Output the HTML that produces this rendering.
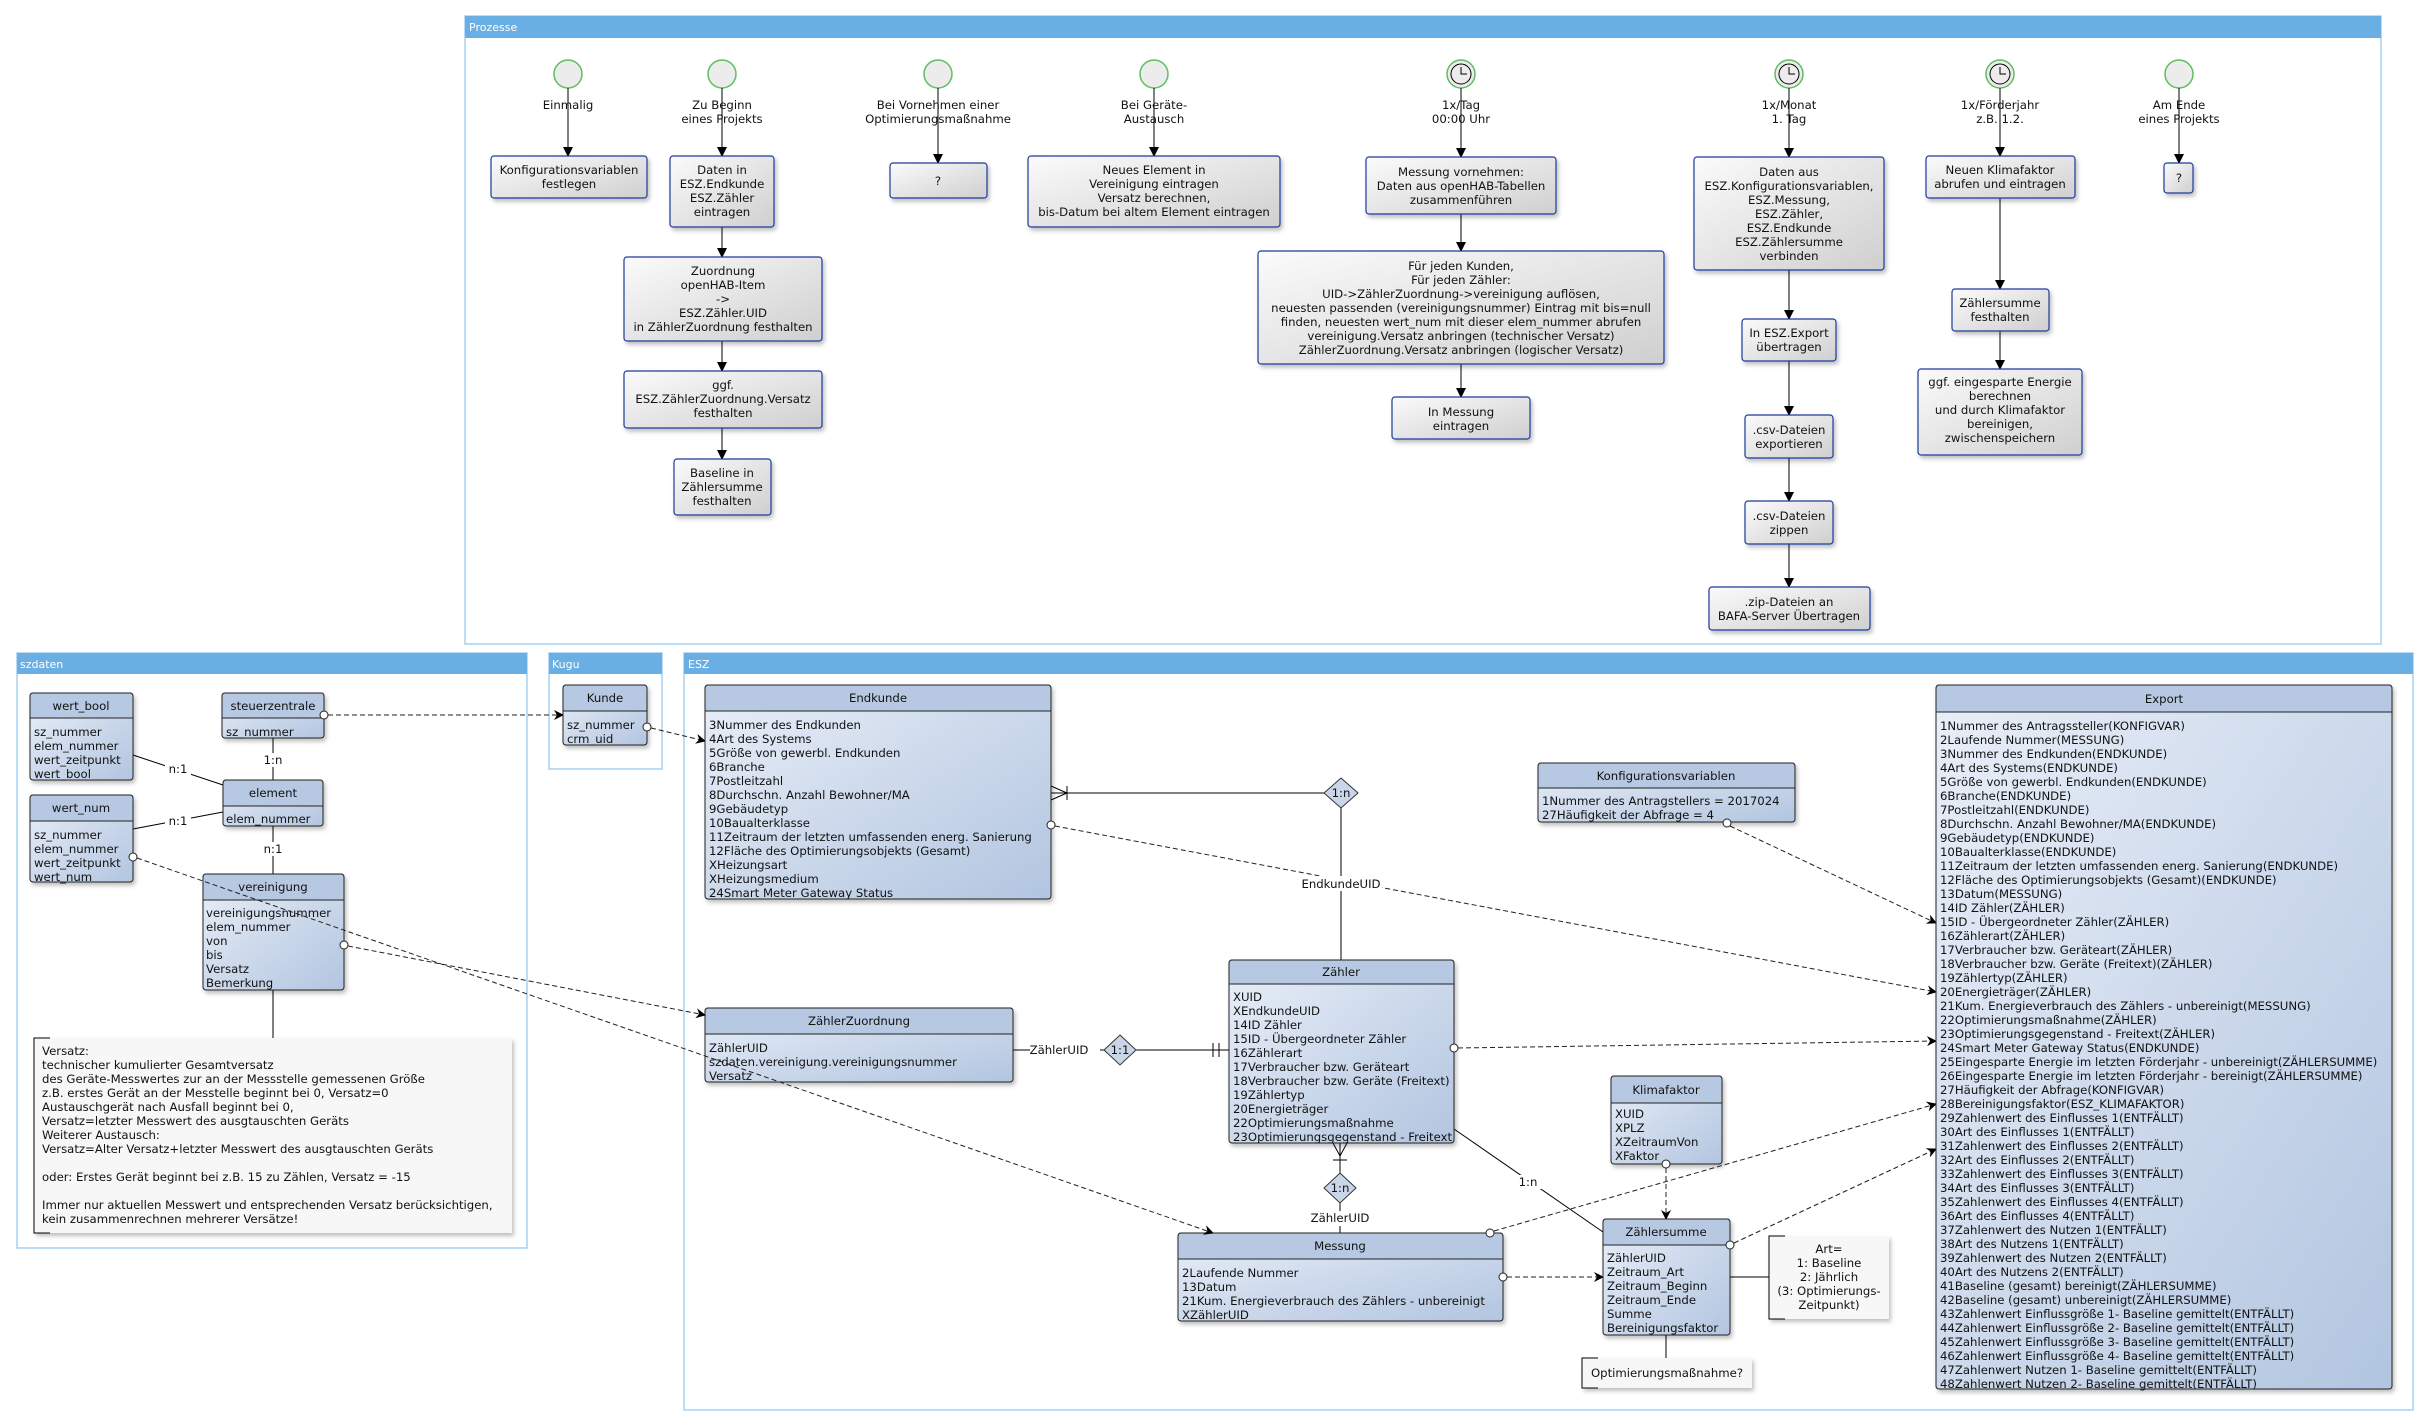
<!DOCTYPE html>
<html><head><meta charset="utf-8"><style>
html,body{margin:0;padding:0;background:#fff;}
svg{display:block;font-family:"DejaVu Sans","Liberation Sans",sans-serif;}
.t{font-size:11.7px;fill:#111;}
.c{text-anchor:middle;}
.ft{font-size:11px;fill:#fff;}
</style></head><body>
<svg width="2430" height="1426" viewBox="0 0 2430 1426" xmlns="http://www.w3.org/2000/svg">
<defs>
<linearGradient id="eg" x1="0" y1="0" x2="1" y2="1"><stop offset="0" stop-color="#e9eff8"/><stop offset="1" stop-color="#b2c5e0"/></linearGradient>
<linearGradient id="pg" x1="0" y1="0" x2="1" y2="1"><stop offset="0" stop-color="#fbfbfb"/><stop offset="1" stop-color="#cfcfcf"/></linearGradient>
<marker id="fa" markerWidth="10" markerHeight="10" refX="9" refY="5" orient="auto" markerUnits="userSpaceOnUse"><path d="M0,0 L10,5 L0,10 z" fill="#000"/></marker>
<marker id="oa" markerWidth="10" markerHeight="10" refX="9" refY="5" orient="auto" markerUnits="userSpaceOnUse"><path d="M0,0 L10,5 L0,10 L3,5 z" fill="#000"/></marker>
<filter id="sh" x="-5%" y="-5%" width="115%" height="120%"><feDropShadow dx="2" dy="3" stdDeviation="2" flood-color="#000" flood-opacity="0.25"/></filter>
</defs>

<!-- Frames -->
<g>
<rect x="465" y="16" width="1916" height="628" fill="#fff" stroke="#a6cff0" stroke-width="1.5"/>
<rect x="465" y="16" width="1916" height="22" fill="#6aafe3"/>
<text x="469" y="31" class="ft">Prozesse</text>

<rect x="17" y="653" width="510" height="595" fill="#fff" stroke="#a6cff0" stroke-width="1.5"/>
<rect x="17" y="653" width="510" height="21" fill="#6aafe3"/>
<text x="20" y="668" class="ft">szdaten</text>

<rect x="549" y="653" width="113" height="116" fill="#fff" stroke="#a6cff0" stroke-width="1.5"/>
<rect x="549" y="653" width="113" height="21" fill="#6aafe3"/>
<text x="552" y="668" class="ft">Kugu</text>

<rect x="684" y="653" width="1729" height="757" fill="#fff" stroke="#a6cff0" stroke-width="1.5"/>
<rect x="684" y="653" width="1729" height="21" fill="#6aafe3"/>
<text x="688" y="668" class="ft">ESZ</text>
</g>

<!-- Process start events -->
<g stroke="#5cbf5c" stroke-width="1.5" fill="#ececec">
<circle cx="568" cy="74" r="14"/><circle cx="722" cy="74" r="14"/><circle cx="938" cy="74" r="14"/><circle cx="1154" cy="74" r="14"/>
<circle cx="1461" cy="74" r="14"/><circle cx="1789" cy="74" r="14"/><circle cx="2000" cy="74" r="14"/><circle cx="2179" cy="74" r="14"/>
</g>
<g stroke="#000" stroke-width="1" fill="none">
<circle cx="1461" cy="74" r="10"/><path d="M1461,67 V74 H1467"/>
<circle cx="1789" cy="74" r="10"/><path d="M1789,67 V74 H1795"/>
<circle cx="2000" cy="74" r="10"/><path d="M2000,67 V74 H2006"/>
</g>
<!-- Process arrows -->
<g stroke="#000" stroke-width="1" marker-end="url(#fa)">
<line x1="568" y1="88" x2="568" y2="156"/>
<line x1="722" y1="88" x2="722" y2="156"/>
<line x1="722" y1="227" x2="722" y2="257"/>
<line x1="722" y1="341" x2="722" y2="371"/>
<line x1="722" y1="428" x2="722" y2="459"/>
<line x1="938" y1="88" x2="938" y2="163"/>
<line x1="1154" y1="88" x2="1154" y2="156"/>
<line x1="1461" y1="88" x2="1461" y2="157"/>
<line x1="1461" y1="214" x2="1461" y2="251"/>
<line x1="1461" y1="364" x2="1461" y2="397"/>
<line x1="1789" y1="88" x2="1789" y2="157"/>
<line x1="1789" y1="270" x2="1789" y2="319"/>
<line x1="1789" y1="361" x2="1789" y2="415"/>
<line x1="1789" y1="458" x2="1789" y2="501"/>
<line x1="1789" y1="544" x2="1789" y2="587"/>
<line x1="2000" y1="88" x2="2000" y2="156"/>
<line x1="2000" y1="198" x2="2000" y2="289"/>
<line x1="2000" y1="331" x2="2000" y2="369"/>
<line x1="2179" y1="88" x2="2179" y2="163"/>
</g>
<!-- Process labels -->
<g class="t c">
<text x="568" y="109">Einmalig</text>
<text x="722" y="109">Zu Beginn</text><text x="722" y="123">eines Projekts</text>
<text x="938" y="109">Bei Vornehmen einer</text><text x="938" y="123">Optimierungsmaßnahme</text>
<text x="1154" y="109">Bei Geräte-</text><text x="1154" y="123">Austausch</text>
<text x="1461" y="109">1x/Tag</text><text x="1461" y="123">00:00 Uhr</text>
<text x="1789" y="109">1x/Monat</text><text x="1789" y="123">1. Tag</text>
<text x="2000" y="109">1x/Förderjahr</text><text x="2000" y="123">z.B. 1.2.</text>
<text x="2179" y="109">Am Ende</text><text x="2179" y="123">eines Projekts</text>
</g>
<!-- Process boxes -->
<g fill="url(#pg)" stroke="#1c3a9c" stroke-width="1.2" filter="url(#sh)">
<rect x="491" y="156" width="156" height="42" rx="3"/>
<rect x="670" y="156" width="104" height="71" rx="3"/>
<rect x="624" y="257" width="198" height="84" rx="3"/>
<rect x="624" y="371" width="198" height="57" rx="3"/>
<rect x="674" y="459" width="97" height="56" rx="3"/>
<rect x="890" y="163" width="97" height="35" rx="3"/>
<rect x="1028" y="156" width="252" height="71" rx="3"/>
<rect x="1366" y="157" width="190" height="57" rx="3"/>
<rect x="1258" y="251" width="406" height="113" rx="3"/>
<rect x="1392" y="397" width="138" height="42" rx="3"/>
<rect x="1694" y="157" width="190" height="113" rx="3"/>
<rect x="1742" y="319" width="94" height="42" rx="3"/>
<rect x="1745" y="415" width="88" height="43" rx="3"/>
<rect x="1745" y="501" width="88" height="43" rx="3"/>
<rect x="1709" y="587" width="161" height="43" rx="3"/>
<rect x="1926" y="156" width="149" height="42" rx="3"/>
<rect x="1952" y="289" width="97" height="42" rx="3"/>
<rect x="1918" y="369" width="164" height="86" rx="3"/>
<rect x="2164" y="163" width="29" height="30" rx="3"/>
</g>
<g class="t c">
<text x="569" y="174">Konfigurationsvariablen</text><text x="569" y="188">festlegen</text>
<text x="722" y="174">Daten in</text><text x="722" y="188">ESZ.Endkunde</text><text x="722" y="202">ESZ.Zähler</text><text x="722" y="216">eintragen</text>
<text x="723" y="275">Zuordnung</text><text x="723" y="289">openHAB-Item</text><text x="723" y="303">-&gt;</text><text x="723" y="317">ESZ.Zähler.UID</text><text x="723" y="331">in ZählerZuordnung festhalten</text>
<text x="723" y="389">ggf.</text><text x="723" y="403">ESZ.ZählerZuordnung.Versatz</text><text x="723" y="417">festhalten</text>
<text x="722" y="477">Baseline in</text><text x="722" y="491">Zählersumme</text><text x="722" y="505">festhalten</text>
<text x="938" y="185">?</text>
<text x="1154" y="174">Neues Element in</text><text x="1154" y="188">Vereinigung eintragen</text><text x="1154" y="202">Versatz berechnen,</text><text x="1154" y="216">bis-Datum bei altem Element eintragen</text>
<text x="1461" y="176">Messung vornehmen:</text><text x="1461" y="190">Daten aus openHAB-Tabellen</text><text x="1461" y="204">zusammenführen</text>
<text x="1461" y="270">Für jeden Kunden,</text><text x="1461" y="284">Für jeden Zähler:</text><text x="1461" y="298">UID-&gt;ZählerZuordnung-&gt;vereinigung auflösen,</text><text x="1461" y="312">neuesten passenden (vereinigungsnummer) Eintrag mit bis=null</text><text x="1461" y="326">finden, neuesten wert_num mit dieser elem_nummer abrufen</text><text x="1461" y="340">vereinigung.Versatz anbringen (technischer Versatz)</text><text x="1461" y="354">ZählerZuordnung.Versatz anbringen (logischer Versatz)</text>
<text x="1461" y="416">In Messung</text><text x="1461" y="430">eintragen</text>
<text x="1789" y="176">Daten aus</text><text x="1789" y="190">ESZ.Konfigurationsvariablen,</text><text x="1789" y="204">ESZ.Messung,</text><text x="1789" y="218">ESZ.Zähler,</text><text x="1789" y="232">ESZ.Endkunde</text><text x="1789" y="246">ESZ.Zählersumme</text><text x="1789" y="260">verbinden</text>
<text x="1789" y="337">In ESZ.Export</text><text x="1789" y="351">übertragen</text>
<text x="1789" y="434">.csv-Dateien</text><text x="1789" y="448">exportieren</text>
<text x="1789" y="520">.csv-Dateien</text><text x="1789" y="534">zippen</text>
<text x="1789" y="606">.zip-Dateien an</text><text x="1789" y="620">BAFA-Server Übertragen</text>
<text x="2000" y="174">Neuen Klimafaktor</text><text x="2000" y="188">abrufen und eintragen</text>
<text x="2000" y="307">Zählersumme</text><text x="2000" y="321">festhalten</text>
<text x="2000" y="386">ggf. eingesparte Energie</text><text x="2000" y="400">berechnen</text><text x="2000" y="414">und durch Klimafaktor</text><text x="2000" y="428">bereinigen,</text><text x="2000" y="442">zwischenspeichern</text>
<text x="2179" y="182">?</text>
</g>

<!-- Solid ER connectors -->
<g stroke="#000" stroke-width="1" fill="none">
<line x1="133" y1="755" x2="223" y2="785"/>
<line x1="133" y1="829" x2="223" y2="812"/>
<line x1="273" y1="738" x2="273" y2="780"/>
<line x1="273" y1="826" x2="273" y2="874"/>
<line x1="273" y1="990" x2="273" y2="1038"/>
<line x1="1051" y1="793" x2="1324" y2="793"/>
<path d="M1051,786 L1067,793 L1051,800 M1067,786 V800"/>
<line x1="1341" y1="808" x2="1341" y2="960"/>
<line x1="1013" y1="1050" x2="1105" y2="1050"/>
<line x1="1136" y1="1050" x2="1229" y2="1050"/>
<path d="M1213,1043 V1057 M1219,1043 V1057"/>
<line x1="1340" y1="1143" x2="1340" y2="1173"/>
<path d="M1333,1143 L1340,1156 L1347,1143 M1333,1160 H1347"/>
<line x1="1340" y1="1203" x2="1340" y2="1233"/>
<line x1="1454" y1="1129" x2="1603" y2="1232"/>
<line x1="1730" y1="1277" x2="1769" y2="1277"/>
<line x1="1666" y1="1335" x2="1666" y2="1358"/>
</g>
<g fill="#c9d6ea" stroke="#333" stroke-width="1">
<path d="M1341,778 L1358,793 L1341,808 L1324,793 z"/>
<path d="M1120,1035 L1136,1050 L1120,1065 L1104,1050 z"/>
<path d="M1340,1173 L1356,1188 L1340,1203 L1324,1188 z"/>
</g>
<g class="t c">
<text x="1341" y="797">1:n</text>
<text x="1120" y="1054">1:1</text>
<text x="1340" y="1192">1:n</text>
</g>

<!-- Dashed connectors (ESZ) -->
<g stroke="#222" stroke-width="1" stroke-dasharray="5,3" fill="none" marker-end="url(#oa)">
<line x1="328" y1="715" x2="563" y2="715"/>
<line x1="651" y1="728" x2="705" y2="741"/>
<line x1="1055" y1="826" x2="1936" y2="992"/>
<line x1="1730" y1="826" x2="1936" y2="923"/>
<line x1="1458" y1="1048" x2="1936" y2="1041"/>
<line x1="1494" y1="1231" x2="1936" y2="1104"/>
<line x1="1734" y1="1243" x2="1936" y2="1149"/>
<line x1="1507" y1="1277" x2="1603" y2="1277"/>
<line x1="1666" y1="1168" x2="1666" y2="1219"/>
</g>

<!-- Entities -->
<g stroke="#222" stroke-width="1" filter="url(#sh)">
<rect x="30" y="693" width="103" height="87" rx="3" fill="url(#eg)"/>
<rect x="30" y="795" width="103" height="87" rx="3" fill="url(#eg)"/>
<rect x="222" y="693" width="102" height="45" rx="3" fill="url(#eg)"/>
<rect x="223" y="780" width="100" height="46" rx="3" fill="url(#eg)"/>
<rect x="203" y="874" width="141" height="116" rx="3" fill="url(#eg)"/>
<rect x="563" y="685" width="84" height="60" rx="3" fill="url(#eg)"/>
<rect x="705" y="685" width="346" height="214" rx="3" fill="url(#eg)"/>
<rect x="705" y="1008" width="308" height="74" rx="3" fill="url(#eg)"/>
<rect x="1229" y="960" width="225" height="183" rx="3" fill="url(#eg)"/>
<rect x="1178" y="1233" width="325" height="88" rx="3" fill="url(#eg)"/>
<rect x="1611" y="1076" width="111" height="88" rx="3" fill="url(#eg)"/>
<rect x="1603" y="1219" width="127" height="116" rx="3" fill="url(#eg)"/>
<rect x="1538" y="763" width="257" height="59" rx="3" fill="url(#eg)"/>
<rect x="1936" y="685" width="456" height="704" rx="3" fill="url(#eg)"/>
</g>
<g fill="#b7c8e2" stroke="#222" stroke-width="1">
<path d="M30,718 V696 a3,3 0 0 1 3,-3 H130 a3,3 0 0 1 3,3 V718 z"/>
<path d="M30,821 V798 a3,3 0 0 1 3,-3 H130 a3,3 0 0 1 3,3 V821 z"/>
<path d="M222,718 V696 a3,3 0 0 1 3,-3 H321 a3,3 0 0 1 3,3 V718 z"/>
<path d="M223,806 V783 a3,3 0 0 1 3,-3 H320 a3,3 0 0 1 3,3 V806 z"/>
<path d="M203,900 V877 a3,3 0 0 1 3,-3 H341 a3,3 0 0 1 3,3 V900 z"/>
<path d="M563,711 V688 a3,3 0 0 1 3,-3 H644 a3,3 0 0 1 3,3 V711 z"/>
<path d="M705,711 V688 a3,3 0 0 1 3,-3 H1048 a3,3 0 0 1 3,3 V711 z"/>
<path d="M705,1034 V1011 a3,3 0 0 1 3,-3 H1010 a3,3 0 0 1 3,3 V1034 z"/>
<path d="M1229,984 V963 a3,3 0 0 1 3,-3 H1451 a3,3 0 0 1 3,3 V984 z"/>
<path d="M1178,1259 V1236 a3,3 0 0 1 3,-3 H1500 a3,3 0 0 1 3,3 V1259 z"/>
<path d="M1611,1103 V1079 a3,3 0 0 1 3,-3 H1719 a3,3 0 0 1 3,3 V1103 z"/>
<path d="M1603,1245 V1222 a3,3 0 0 1 3,-3 H1727 a3,3 0 0 1 3,3 V1245 z"/>
<path d="M1538,788 V766 a3,3 0 0 1 3,-3 H1792 a3,3 0 0 1 3,3 V788 z"/>
<path d="M1936,712 V688 a3,3 0 0 1 3,-3 H2389 a3,3 0 0 1 3,3 V712 z"/>
</g>
<!-- Dashed connectors drawn over entities -->
<g stroke="#222" stroke-width="1" stroke-dasharray="5,3" fill="none" marker-end="url(#oa)">
<line x1="137" y1="858" x2="1213" y2="1233"/>
<line x1="348" y1="946" x2="705" y2="1015"/>
</g>
<!-- Circles at dashed origins -->
<g fill="#fff" stroke="#222" stroke-width="1">
<circle cx="324" cy="715" r="4"/><circle cx="647" cy="727" r="4"/><circle cx="133" cy="857" r="4"/><circle cx="344" cy="945" r="4"/>
<circle cx="1051" cy="825" r="4"/><circle cx="1727" cy="823" r="4"/><circle cx="1454" cy="1048" r="4"/><circle cx="1490" cy="1233" r="4"/>
<circle cx="1503" cy="1277" r="4"/><circle cx="1666" cy="1164" r="4"/><circle cx="1730" cy="1245" r="4"/>
</g>
<!-- Connector labels with white bg -->
<g fill="#fff">
<rect x="165" y="762" width="26" height="14"/><rect x="165" y="814" width="26" height="14"/>
<rect x="260" y="753" width="26" height="14"/><rect x="260" y="842" width="26" height="14"/>
<rect x="1300" y="876" width="82" height="15"/>
<rect x="1030" y="1043" width="70" height="15"/>
<rect x="1305" y="1211" width="70" height="15"/>
<rect x="1516" y="1175" width="26" height="14"/>
</g>
<g class="t c">
<text x="178" y="773">n:1</text><text x="178" y="825">n:1</text>
<text x="273" y="764">1:n</text><text x="273" y="853">n:1</text>
<text x="1341" y="888">EndkundeUID</text>
<text x="1059" y="1054">ZählerUID</text>
<text x="1340" y="1222">ZählerUID</text>
<text x="1528" y="1186">1:n</text>
</g>

<!-- Entity text -->
<g class="t c">
<text x="81" y="710">wert_bool</text>
<text x="81" y="812">wert_num</text>
<text x="273" y="710">steuerzentrale</text>
<text x="273" y="797">element</text>
<text x="273" y="891">vereinigung</text>
<text x="605" y="702">Kunde</text>
<text x="878" y="702">Endkunde</text>
<text x="859" y="1025">ZählerZuordnung</text>
<text x="1341" y="976">Zähler</text>
<text x="1340" y="1250">Messung</text>
<text x="1666" y="1094">Klimafaktor</text>
<text x="1666" y="1236">Zählersumme</text>
<text x="1666" y="780">Konfigurationsvariablen</text>
<text x="2164" y="703">Export</text>
</g>
<g class="t">
<text x="34" y="736">sz_nummer</text><text x="34" y="750">elem_nummer</text><text x="34" y="764">wert_zeitpunkt</text><text x="34" y="778">wert_bool</text>
<text x="34" y="839">sz_nummer</text><text x="34" y="853">elem_nummer</text><text x="34" y="867">wert_zeitpunkt</text><text x="34" y="881">wert_num</text>
<text x="226" y="736">sz_nummer</text>
<text x="226" y="823">elem_nummer</text>
<text x="206" y="917">vereinigungsnummer</text><text x="206" y="931">elem_nummer</text><text x="206" y="945">von</text><text x="206" y="959">bis</text><text x="206" y="973">Versatz</text><text x="206" y="987">Bemerkung</text>
<text x="567" y="729">sz_nummer</text><text x="567" y="743">crm_uid</text>
<text x="709" y="729">3Nummer des Endkunden</text>
<text x="709" y="743">4Art des Systems</text>
<text x="709" y="757">5Größe von gewerbl. Endkunden</text>
<text x="709" y="771">6Branche</text>
<text x="709" y="785">7Postleitzahl</text>
<text x="709" y="799">8Durchschn. Anzahl Bewohner/MA</text>
<text x="709" y="813">9Gebäudetyp</text>
<text x="709" y="827">10Baualterklasse</text>
<text x="709" y="841">11Zeitraum der letzten umfassenden energ. Sanierung</text>
<text x="709" y="855">12Fläche des Optimierungsobjekts (Gesamt)</text>
<text x="709" y="869">XHeizungsart</text>
<text x="709" y="883">XHeizungsmedium</text>
<text x="709" y="897">24Smart Meter Gateway Status</text>
<text x="709" y="1052">ZählerUID</text><text x="709" y="1066">szdaten.vereinigung.vereinigungsnummer</text><text x="709" y="1080">Versatz</text>
<text x="1233" y="1001">XUID</text>
<text x="1233" y="1015">XEndkundeUID</text>
<text x="1233" y="1029">14ID Zähler</text>
<text x="1233" y="1043">15ID - Übergeordneter Zähler</text>
<text x="1233" y="1057">16Zählerart</text>
<text x="1233" y="1071">17Verbraucher bzw. Geräteart</text>
<text x="1233" y="1085">18Verbraucher bzw. Geräte (Freitext)</text>
<text x="1233" y="1099">19Zählertyp</text>
<text x="1233" y="1113">20Energieträger</text>
<text x="1233" y="1127">22Optimierungsmaßnahme</text>
<text x="1233" y="1141">23Optimierungsgegenstand - Freitext</text>
<text x="1182" y="1277">2Laufende Nummer</text><text x="1182" y="1291">13Datum</text><text x="1182" y="1305">21Kum. Energieverbrauch des Zählers - unbereinigt</text><text x="1182" y="1319">XZählerUID</text>
<text x="1615" y="1118">XUID</text><text x="1615" y="1132">XPLZ</text><text x="1615" y="1146">XZeitraumVon</text><text x="1615" y="1160">XFaktor</text>
<text x="1607" y="1262">ZählerUID</text><text x="1607" y="1276">Zeitraum_Art</text><text x="1607" y="1290">Zeitraum_Beginn</text><text x="1607" y="1304">Zeitraum_Ende</text><text x="1607" y="1318">Summe</text><text x="1607" y="1332">Bereinigungsfaktor</text>
<text x="1542" y="805">1Nummer des Antragstellers = 2017024</text><text x="1542" y="819">27Häufigkeit der Abfrage = 4</text>
</g>
<g class="t">
<text x="1940" y="730">1Nummer des Antragssteller(KONFIGVAR)</text>
<text x="1940" y="744">2Laufende Nummer(MESSUNG)</text>
<text x="1940" y="758">3Nummer des Endkunden(ENDKUNDE)</text>
<text x="1940" y="772">4Art des Systems(ENDKUNDE)</text>
<text x="1940" y="786">5Größe von gewerbl. Endkunden(ENDKUNDE)</text>
<text x="1940" y="800">6Branche(ENDKUNDE)</text>
<text x="1940" y="814">7Postleitzahl(ENDKUNDE)</text>
<text x="1940" y="828">8Durchschn. Anzahl Bewohner/MA(ENDKUNDE)</text>
<text x="1940" y="842">9Gebäudetyp(ENDKUNDE)</text>
<text x="1940" y="856">10Baualterklasse(ENDKUNDE)</text>
<text x="1940" y="870">11Zeitraum der letzten umfassenden energ. Sanierung(ENDKUNDE)</text>
<text x="1940" y="884">12Fläche des Optimierungsobjekts (Gesamt)(ENDKUNDE)</text>
<text x="1940" y="898">13Datum(MESSUNG)</text>
<text x="1940" y="912">14ID Zähler(ZÄHLER)</text>
<text x="1940" y="926">15ID - Übergeordneter Zähler(ZÄHLER)</text>
<text x="1940" y="940">16Zählerart(ZÄHLER)</text>
<text x="1940" y="954">17Verbraucher bzw. Geräteart(ZÄHLER)</text>
<text x="1940" y="968">18Verbraucher bzw. Geräte (Freitext)(ZÄHLER)</text>
<text x="1940" y="982">19Zählertyp(ZÄHLER)</text>
<text x="1940" y="996">20Energieträger(ZÄHLER)</text>
<text x="1940" y="1010">21Kum. Energieverbrauch des Zählers - unbereinigt(MESSUNG)</text>
<text x="1940" y="1024">22Optimierungsmaßnahme(ZÄHLER)</text>
<text x="1940" y="1038">23Optimierungsgegenstand - Freitext(ZÄHLER)</text>
<text x="1940" y="1052">24Smart Meter Gateway Status(ENDKUNDE)</text>
<text x="1940" y="1066">25Eingesparte Energie im letzten Förderjahr - unbereinigt(ZÄHLERSUMME)</text>
<text x="1940" y="1080">26Eingesparte Energie im letzten Förderjahr - bereinigt(ZÄHLERSUMME)</text>
<text x="1940" y="1094">27Häufigkeit der Abfrage(KONFIGVAR)</text>
<text x="1940" y="1108">28Bereinigungsfaktor(ESZ_KLIMAFAKTOR)</text>
<text x="1940" y="1122">29Zahlenwert des Einflusses 1(ENTFÄLLT)</text>
<text x="1940" y="1136">30Art des Einflusses 1(ENTFÄLLT)</text>
<text x="1940" y="1150">31Zahlenwert des Einflusses 2(ENTFÄLLT)</text>
<text x="1940" y="1164">32Art des Einflusses 2(ENTFÄLLT)</text>
<text x="1940" y="1178">33Zahlenwert des Einflusses 3(ENTFÄLLT)</text>
<text x="1940" y="1192">34Art des Einflusses 3(ENTFÄLLT)</text>
<text x="1940" y="1206">35Zahlenwert des Einflusses 4(ENTFÄLLT)</text>
<text x="1940" y="1220">36Art des Einflusses 4(ENTFÄLLT)</text>
<text x="1940" y="1234">37Zahlenwert des Nutzen 1(ENTFÄLLT)</text>
<text x="1940" y="1248">38Art des Nutzens 1(ENTFÄLLT)</text>
<text x="1940" y="1262">39Zahlenwert des Nutzen 2(ENTFÄLLT)</text>
<text x="1940" y="1276">40Art des Nutzens 2(ENTFÄLLT)</text>
<text x="1940" y="1290">41Baseline (gesamt) bereinigt(ZÄHLERSUMME)</text>
<text x="1940" y="1304">42Baseline (gesamt) unbereinigt(ZÄHLERSUMME)</text>
<text x="1940" y="1318">43Zahlenwert Einflussgröße 1- Baseline gemittelt(ENTFÄLLT)</text>
<text x="1940" y="1332">44Zahlenwert Einflussgröße 2- Baseline gemittelt(ENTFÄLLT)</text>
<text x="1940" y="1346">45Zahlenwert Einflussgröße 3- Baseline gemittelt(ENTFÄLLT)</text>
<text x="1940" y="1360">46Zahlenwert Einflussgröße 4- Baseline gemittelt(ENTFÄLLT)</text>
<text x="1940" y="1374">47Zahlenwert Nutzen 1- Baseline gemittelt(ENTFÄLLT)</text>
<text x="1940" y="1388">48Zahlenwert Nutzen 2- Baseline gemittelt(ENTFÄLLT)</text>
</g>

<!-- Notes -->
<g filter="url(#sh)" fill="#f7f7f7">
<rect x="34" y="1038" width="478" height="195"/>
<rect x="1769" y="1236" width="120" height="83"/>
<rect x="1582" y="1358" width="170" height="30"/>
</g>
<g stroke="#000" stroke-width="1" fill="none">
<path d="M50,1038 H34 V1233 H50"/>
<path d="M1785,1236 H1769 V1319 H1785"/>
<path d="M1598,1358 H1582 V1388 H1598"/>
</g>
<g class="t">
<text x="42" y="1055">Versatz:</text>
<text x="42" y="1069">technischer kumulierter Gesamtversatz</text>
<text x="42" y="1083">des Geräte-Messwertes zur an der Messstelle gemessenen Größe</text>
<text x="42" y="1097">z.B. erstes Gerät an der Messtelle beginnt bei 0, Versatz=0</text>
<text x="42" y="1111">Austauschgerät nach Ausfall beginnt bei 0,</text>
<text x="42" y="1125">Versatz=letzter Messwert des ausgtauschten Geräts</text>
<text x="42" y="1139">Weiterer Austausch:</text>
<text x="42" y="1153">Versatz=Alter Versatz+letzter Messwert des ausgtauschten Geräts</text>
<text x="42" y="1181">oder: Erstes Gerät beginnt bei z.B. 15 zu Zählen, Versatz = -15</text>
<text x="42" y="1209">Immer nur aktuellen Messwert und entsprechenden Versatz berücksichtigen,</text>
<text x="42" y="1223">kein zusammenrechnen mehrerer Versätze!</text>
</g>
<g class="t c">
<text x="1829" y="1253">Art=</text>
<text x="1829" y="1267">1: Baseline</text>
<text x="1829" y="1281">2: Jährlich</text>
<text x="1829" y="1295">(3: Optimierungs-</text>
<text x="1829" y="1309">Zeitpunkt)</text>
<text x="1667" y="1377">Optimierungsmaßnahme?</text>
</g>
</svg>
</body></html>
